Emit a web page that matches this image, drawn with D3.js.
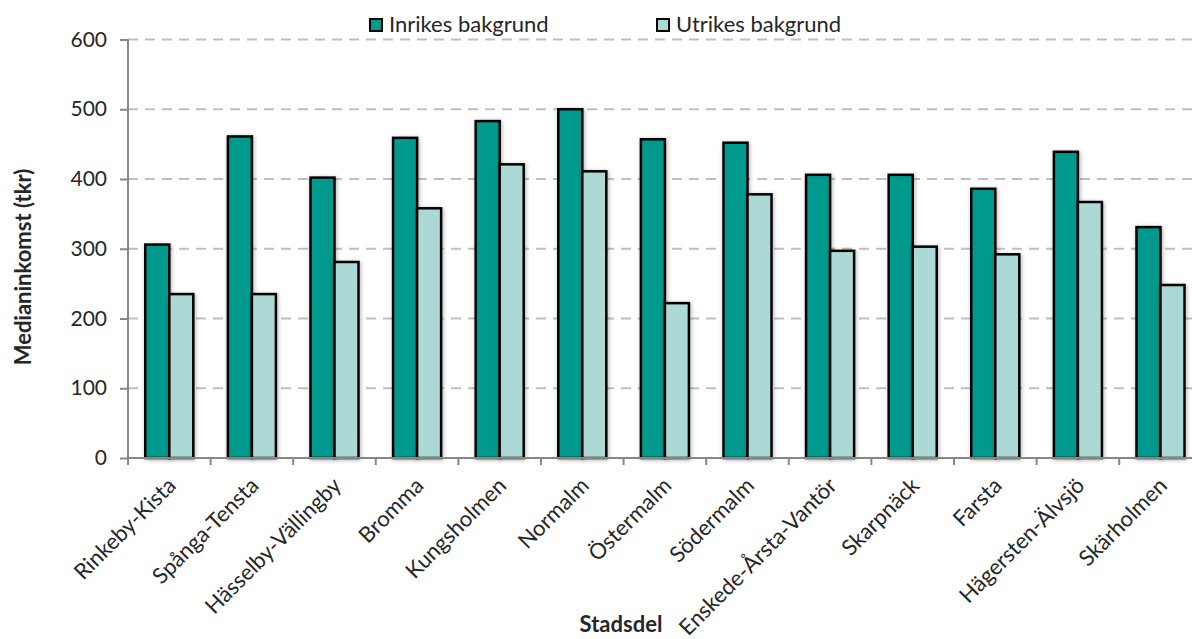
<!DOCTYPE html>
<html>
<head>
<meta charset="utf-8">
<script src="https://cdn.jsdelivr.net/npm/d3@7"></script>
<style>
  html, body { margin: 0; padding: 0; background: #fff; }
  svg { display: block; }
  text { font-family: Lato, "Open Sans", sans-serif; fill: #262626; }
</style>
</head>
<body>
<svg id="chart" width="1192" height="639"></svg>
<script>
const categories = ["Rinkeby-Kista", "Spånga-Tensta", "Hässelby-Vällingby", "Bromma", "Kungsholmen", "Normalm", "Östermalm", "Södermalm", "Enskede-Årsta-Vantör", "Skarpnäck", "Farsta", "Hägersten-Älvsjö", "Skärholmen"];
const seriesNames = ["Inrikes bakgrund", "Utrikes bakgrund"];
const inrikes = [306, 461, 402, 459, 483, 500, 457, 452, 406, 406, 386, 439, 331];
const utrikes = [235, 235, 281, 358, 421, 411, 222, 378, 297, 303, 292, 367, 248];
const yTicks = [0, 100, 200, 300, 400, 500, 600];
const xTitle = "Stadsdel";
const yTitle = "Medianinkomst (tkr)";
const colors = ["#00998e", "#acd9d5"];

const svg = d3.select("#chart");
const plotLeft = 128, plotBottom = 458, plotTop = 39.5;
const bandW = 82.6;

const x0 = d3.scaleBand().domain(categories).range([plotLeft, plotLeft + bandW * categories.length]).padding(0);
const x1 = d3.scaleBand().domain(seriesNames).range([0, x0.bandwidth()]).paddingInner(0).paddingOuter(0.72);
const y = d3.scaleLinear().domain([0, 600]).range([plotBottom, plotTop]);

const defs = svg.append("defs");
const f = defs.append("filter").attr("id", "sh").attr("x", "-30%").attr("y", "-10%").attr("width", "160%").attr("height", "120%");
f.append("feDropShadow").attr("dx", 1).attr("dy", 1).attr("stdDeviation", 2).attr("flood-color", "#000").attr("flood-opacity", 0.3);

// gridlines
svg.append("g").selectAll("line").data(yTicks.filter(d => d > 0)).join("line")
  .attr("x1", plotLeft).attr("x2", 1200)
  .attr("y1", d => y(d)).attr("y2", d => y(d))
  .attr("stroke", "#bfbfbf").attr("stroke-width", 2).attr("stroke-dasharray", "10,7");

// bars
const rows = categories.map((c, i) => ({ c, vals: [inrikes[i], utrikes[i]] }));
const g = svg.append("g").selectAll("g").data(rows).join("g")
  .attr("transform", d => `translate(${x0(d.c)},0)`);
g.selectAll("rect").data(d => d.vals.map((v, j) => ({ v, s: seriesNames[j], j }))).join("rect")
  .attr("x", d => x1(d.s))
  .attr("y", d => y(d.v))
  .attr("width", x1.bandwidth())
  .attr("height", d => plotBottom - y(d.v))
  .attr("fill", d => colors[d.j])
  .attr("stroke", "#000").attr("stroke-width", 2.5)
  .attr("filter", "url(#sh)");

// y axis
const yAxis = d3.axisLeft(y).tickValues(yTicks).tickSize(8).tickPadding(13);
const ya = svg.append("g").attr("transform", `translate(${plotLeft},0)`).call(yAxis);
ya.select(".domain").attr("stroke", "#868686").attr("stroke-width", 2).attr("d", `M0,${plotBottom}V${plotTop}`);
ya.selectAll(".tick line").attr("stroke", "#868686").attr("stroke-width", 2);
ya.selectAll(".tick text").attr("font-size", 21).attr("fill", "#262626").style("font-family", "Lato, sans-serif");

// x axis
const xa = svg.append("g").attr("transform", `translate(0,${plotBottom})`);
xa.append("line").attr("x1", plotLeft).attr("x2", 1200).attr("y1", 0).attr("y2", 0)
  .attr("stroke", "#868686").attr("stroke-width", 2);
xa.selectAll("line.tk").data(categories).join("line").attr("class", "tk")
  .attr("x1", d => x0(d)).attr("x2", d => x0(d)).attr("y1", 0).attr("y2", 7)
  .attr("stroke", "#868686").attr("stroke-width", 2);
xa.selectAll("text.cat").data(categories).join("text").attr("class", "cat")
  .attr("transform", d => `translate(${x0(d) + x0.bandwidth() / 2 + 8},${29}) rotate(-45)`)
  .attr("text-anchor", "end")
  .attr("font-size", 22)
  .text(d => d);

// axis titles
svg.append("text").attr("x", 621).attr("y", 632).attr("text-anchor", "middle")
  .attr("font-size", 22).attr("font-weight", "bold").text(xTitle);
svg.append("text").attr("transform", "translate(31,267) rotate(-90)").attr("text-anchor", "middle")
  .attr("font-size", 22).attr("font-weight", "bold").text(yTitle);

// legend
const legendX = [370, 657];
const lg = svg.append("g").selectAll("g").data(seriesNames).join("g")
  .attr("transform", (d, i) => `translate(${legendX[i]},0)`);
lg.append("rect").attr("x", 0).attr("y", 19).attr("width", 12).attr("height", 12)
  .attr("fill", (d, i) => colors[i]).attr("stroke", "#000").attr("stroke-width", 2);
lg.append("text").attr("x", 19).attr("y", 32).attr("font-size", 22).text(d => d);
</script>
</body>
</html>
